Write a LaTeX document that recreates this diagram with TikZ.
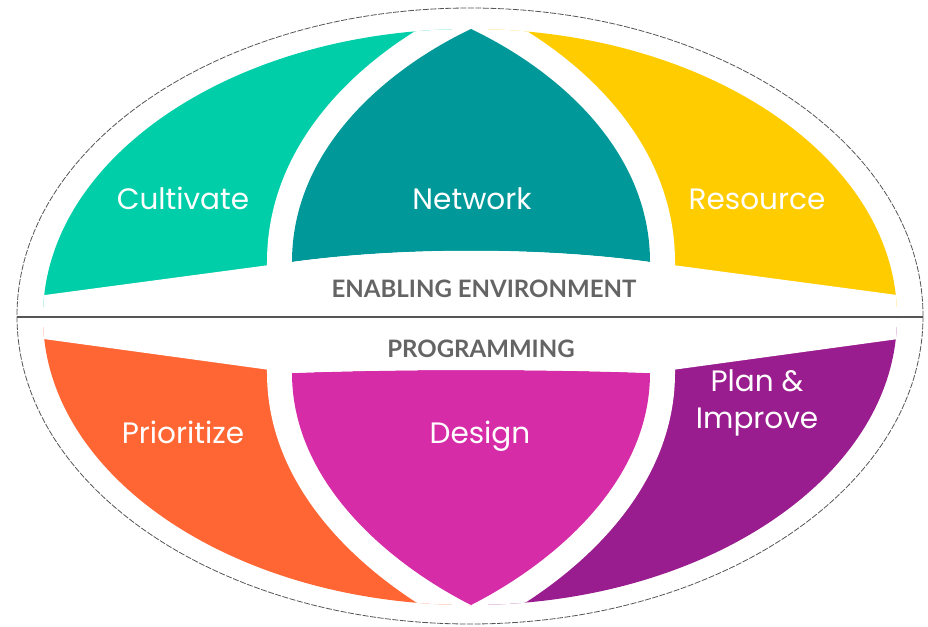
\documentclass[tikz,border=0pt]{standalone}
\usepackage{fontspec}
\setmainfont{Poppins}
\newfontfamily\bandfont{Lato}

\definecolor{cultivate}{RGB}{0,206,168}
\definecolor{network}{RGB}{0,152,153}
\definecolor{resource}{RGB}{255,204,0}
\definecolor{prioritize}{RGB}{255,102,51}
\definecolor{design}{RGB}{214,44,168}
\definecolor{planimp}{RGB}{153,29,142}
\definecolor{bandgray}{RGB}{100,100,100}
\definecolor{rimgray}{RGB}{85,85,85}

\begin{document}
\begin{tikzpicture}[x=1pt,y=-1pt,
  segtext/.style={text=white,anchor=base,align=center,font=\fontsize{29.5}{37}\selectfont},
  bandtext/.style={text=bandgray,anchor=base,font=\bandfont\bfseries\fontsize{24}{28}\selectfont},
  gapline/.style={preaction={draw=white,line width=50pt}}]

\useasboundingbox (0,0) rectangle (928,626);

% outer rim
\draw[rimgray,line width=0.8pt,dash pattern=on 6pt off 1.5pt] (470,316) ellipse [x radius=453,y radius=308];

\begin{scope}
 \clip (470,317) ellipse [x radius=427,y radius=288];

 % enabling environment (upper half)
 \fill[cultivate] (0,0) rectangle (471,317);
 \fill[resource] (471,0) rectangle (940,317);
 \fill[network,gapline] (292,262) .. controls (292,150) and (385,70) .. (471,29)
   .. controls (557,70) and (650,150) .. (650,262)
   .. controls (542,247) and (400,247) .. cycle;

 % programming (lower half)
 \fill[prioritize] (0,317) rectangle (471,640);
 \fill[planimp] (471,317) rectangle (940,640);
 \fill[design,gapline] (292,373) .. controls (292,484) and (392,565) .. (471,605)
   .. controls (550,565) and (650,484) .. (650,373)
   .. controls (542,369) and (400,369) .. cycle;

 % white band between the halves
 \fill[white] (0,301) -- (292,262) .. controls (400,247) and (542,247) .. (650,262)
   -- (942,301) -- (942,333) -- (650,373) .. controls (542,369) and (400,369) .. (292,373)
   -- (0,333) -- cycle;
\end{scope}

% dividing line
\coordinate (rimW) at (17,317);
\coordinate (rimE) at (923,317);
\draw[rimgray,line width=1.2pt] (rimW) -- (rimE);

\node[segtext] (cultivateT) at (183,209) {Cultivate};
\node[segtext] (networkT) at (472,209) {Network};
\node[segtext] (resourceT) at (757,209) {Resource};
\node[bandtext] (enablingT) at (484,297) {ENABLING ENVIRONMENT};
\node[bandtext] (programmingT) at (481,357) {PROGRAMMING};
\node[segtext] (prioritizeT) at (183,443) {Prioritize};
\node[segtext] (designT) at (480,443) {Design};
\node[segtext] (planT) at (757,428) {Plan \&\\Improve};

\end{tikzpicture}
\end{document}
